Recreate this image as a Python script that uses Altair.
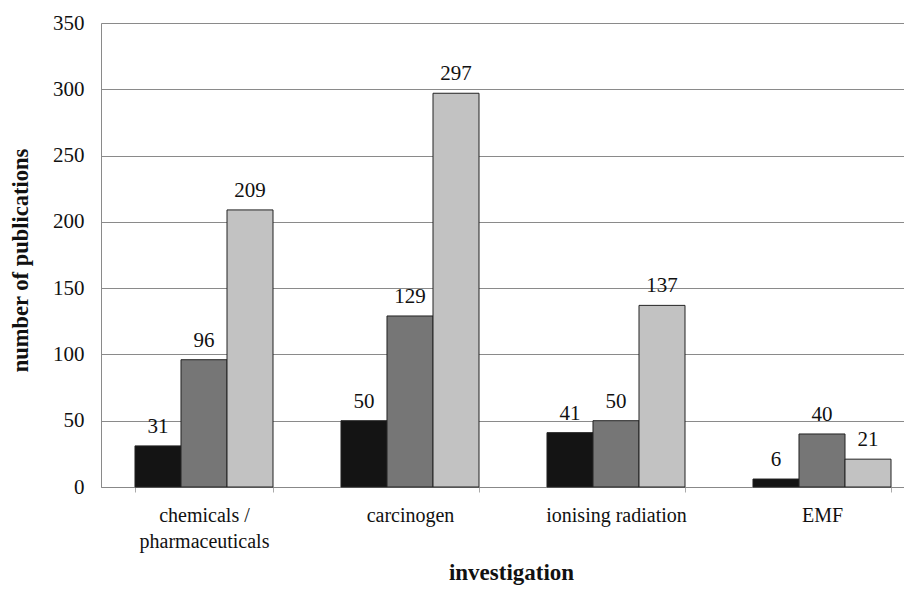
import altair as alt
import pandas as pd

categories = ["chemicals / pharmaceuticals", "carcinogen", "ionising radiation", "EMF"]
series_names = ["series 1", "series 2", "series 3"]
series_1 = [31, 50, 41, 6]
series_2 = [96, 129, 50, 40]
series_3 = [209, 297, 137, 21]
colors = ["#141414", "#767676", "#c2c2c2"]
y_ticks = [0, 50, 100, 150, 200, 250, 300, 350]

rows = []
for vals, name in zip([series_1, series_2, series_3], series_names):
    for c, v in zip(categories, vals):
        rows.append({"investigation": c, "series": name, "value": v})
df = pd.DataFrame(rows)

FONT = "Liberation Serif"

x = alt.X(
    "investigation:N",
    sort=categories,
    scale=alt.Scale(paddingInner=0.33, paddingOuter=0.165, range=[0, 824]),
    axis=alt.Axis(
        title="investigation",
        titleFont=FONT,
        titleFontSize=23,
        titleFontWeight="bold",
        titleColor="#111",
        titleX=410,
        titleY=74,
        titleBaseline="top",
        labelFont=FONT,
        labelFontSize=20,
        labelColor="#111",
        labelAngle=0,
        labelPadding=13,
        labelLineHeight=26,
        labelExpr="datum.label == 'chemicals / pharmaceuticals' ? ['chemicals /', 'pharmaceuticals'] : datum.label",
        tickBand="extent",
        tickSize=5,
        tickColor="#aaa",
        domainColor="#888",
        grid=False,
    ),
)

y = alt.Y(
    "value:Q",
    scale=alt.Scale(domain=[0, 350], nice=False),
    axis=alt.Axis(
        title="number of publications",
        titleFont=FONT,
        titleFontSize=22.5,
        titleFontWeight="bold",
        titleColor="#111",
        titleX=-81,
        titleY=237,
        titleAngle=-90,
        titleBaseline="middle",
        titleAlign="center",
        labelFont=FONT,
        labelFontSize=21,
        labelColor="#111",
        labelPadding=17,
        values=y_ticks,
        ticks=False,
        grid=True,
        gridColor="#8a8a8a",
        gridWidth=1,
        domainColor="#8a8a8a",
    ),
)

color = alt.Color(
    "series:N",
    sort=series_names,
    scale=alt.Scale(domain=series_names, range=colors),
    legend=None,
)

bars = alt.Chart(df).mark_bar(stroke="#222", strokeWidth=1).encode(
    x=x,
    xOffset=alt.XOffset("series:N", sort=series_names),
    y=y,
    color=color,
)

labels = alt.Chart(df).mark_text(
    font=FONT, fontSize=21, color="#111", baseline="alphabetic", dy=-13
).encode(
    x=alt.X("investigation:N", sort=categories),
    xOffset=alt.XOffset("series:N", sort=series_names),
    y=alt.Y("value:Q"),
    text=alt.Text("value:Q"),
)

chart = (
    alt.layer(bars, labels)
    .properties(
        width=803,
        height=464,
        padding={"left": 93, "top": 15, "right": 0, "bottom": 102},
        autosize=alt.AutoSizeParams(type="none"),
    )
    .configure_view(stroke=None)
    .configure(background="white")
)

chart.save("out.html", embed_options={"renderer": "svg", "actions": False})
